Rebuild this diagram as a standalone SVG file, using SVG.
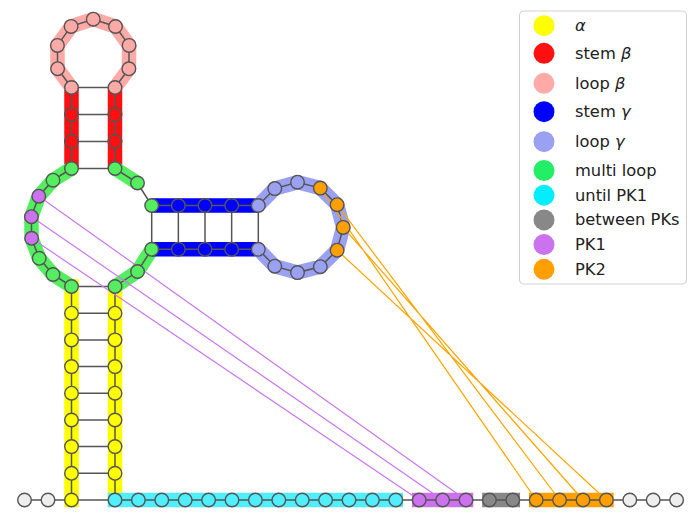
<svg xmlns="http://www.w3.org/2000/svg" width="692" height="527" viewBox="0 0 692 527">
<style>
.band{fill:none;stroke-width:14.5;stroke-linejoin:round;stroke-linecap:butt}
.sq{stroke-linecap:square}
.bb{fill:none;stroke:#555;stroke-width:1.5}
.pk1{stroke:#cc77ee;stroke-width:1.2}
.pk2{stroke:#ffa500;stroke-width:1.2}
circle.n{stroke:#555;stroke-width:1.4}
.ya{fill:#ffff00}.sb{fill:#ff1010}.lb{fill:#ffaaa6}.sg{fill:#0000ff}.lg{fill:#9aa0f2}
.ml{fill:#55ee60}.cy{fill:#50efff}.bp{fill:#888888}.p1{fill:#cc72ee}.p2{fill:#ffa000}.ex{fill:#eeeeee}
text{font-family:"DejaVu Sans","Liberation Sans",sans-serif;font-size:16.3px;fill:#222}
</style>

<g id="bands">
<path class="band sq" stroke="#ffff00" d="M71.5,286.5V500"/>
<path class="band" stroke="#ffff00" d="M115,286.5V500"/>
<path class="band" stroke="#ff1010" d="M71.5,87.5V168.5M115,87.5V168.5"/>
<path class="band" stroke="#ffaaa6" d="M71.5,87.5L57.6,68.7L57.4,45.4L71.1,26.4L93.25,19.2L115.5,26.5L129.1,45.4L128.9,68.8L115,87.5"/>
<path class="band" stroke="#55ee60" d="M71.5,168.5L53,180.2L38.8,196.2L31.4,216.7L31.6,238.3L39.2,258.3L53,274.5L71.5,286.5M115,168.5L137.5,183M151.7,249.3L137.5,271.5L115,286.5"/>
<path class="band" stroke="#0000ff" d="M151.7,205.5H258.3M151.7,249.3H258.3"/>
<path class="band" stroke="#9aa0f2" d="M258.3,205.5L274.8,188.6L297.5,182.2L320.3,188.1L337.1,204.7L343.2,227.4L337.1,250.2L320.3,266.7L297.5,272.6L274.8,266.2L258.3,249.3"/>
<path class="band sq" stroke="#50efff" d="M115,500H395.8"/>
<path class="band sq" stroke="#cc72ee" d="M419.2,500H466"/>
<path class="band sq" stroke="#888888" d="M489.4,500H512.8"/>
<path class="band sq" stroke="#ffa000" d="M536.2,500H606.4"/>
</g>

<g id="connectors">
<path class="bb" d="M24.5,500H676.6"/>
<path class="bb" d="M71.5,286.5V500M115,286.5V500"/>
<path class="bb" d="M71.5,286.5H115M71.5,313.2H115M71.5,339.9H115M71.5,366.6H115M71.5,393.2H115M71.5,420H115M71.5,446.6H115M71.5,473.3H115"/>
<path class="bb" d="M71.5,286.5L53,274.5L39.2,258.3L31.6,238.3L31.4,216.7L38.8,196.2L53,180.2L71.5,168.5"/>
<path class="bb" d="M115,168.5L137.5,183L151.7,205.5M151.7,249.3L137.5,271.5L115,286.5"/>
<path class="bb" d="M71.5,87.5V168.5M115,87.5V168.5M71.5,87.5H115M71.5,114.5H115M71.5,141.5H115M71.5,168.5H115"/>
<path class="bb" d="M71.5,87.5L57.6,68.7L57.4,45.4L71.1,26.4L93.25,19.2L115.5,26.5L129.1,45.4L128.9,68.8L115,87.5"/>
<path class="bb" d="M151.7,205.5H258.3M151.7,249.3H258.3M151.7,205.5V249.3M178.35,205.5V249.3M205,205.5V249.3M231.65,205.5V249.3M258.3,205.5V249.3"/>
<path class="bb" d="M258.3,205.5L274.8,188.6L297.5,182.2L320.3,188.1L337.1,204.7L343.2,227.4L337.1,250.2L320.3,266.7L297.5,272.6L274.8,266.2L258.3,249.3"/>
<path class="pk1" d="M38.8,196.2L466,500M31.4,216.7L442.6,500M31.6,238.3L419.2,500"/>
<path class="pk2" d="M320.3,188.1L536.2,500M337.1,204.7L559.6,500M343.2,227.4L583,500M337.1,250.2L606.4,500"/>
</g>

<g id="nodes">
<g id="b1"><circle class="n ex" cx="24.5" cy="500" r="6.8"/></g>
<g id="b2"><circle class="n ex" cx="48" cy="500" r="6.8"/></g>
<g id="a1"><circle class="n ya" cx="71.5" cy="500" r="6.8"/></g>
<g id="a2"><circle class="n ya" cx="71.5" cy="473.3" r="6.8"/></g>
<g id="a3"><circle class="n ya" cx="71.5" cy="446.6" r="6.8"/></g>
<g id="a4"><circle class="n ya" cx="71.5" cy="420" r="6.8"/></g>
<g id="a5"><circle class="n ya" cx="71.5" cy="393.2" r="6.8"/></g>
<g id="a6"><circle class="n ya" cx="71.5" cy="366.6" r="6.8"/></g>
<g id="a7"><circle class="n ya" cx="71.5" cy="339.9" r="6.8"/></g>
<g id="a8"><circle class="n ya" cx="71.5" cy="313.2" r="6.8"/></g>
<g id="m1"><circle class="n ml" cx="71.5" cy="286.5" r="6.8"/></g>
<g id="m2"><circle class="n ml" cx="53" cy="274.5" r="6.8"/></g>
<g id="m3"><circle class="n ml" cx="39.2" cy="258.3" r="6.8"/></g>
<g id="m4"><circle class="n p1" cx="31.6" cy="238.3" r="6.8"/></g>
<g id="m5"><circle class="n p1" cx="31.4" cy="216.7" r="6.8"/></g>
<g id="m6"><circle class="n p1" cx="38.8" cy="196.2" r="6.8"/></g>
<g id="m7"><circle class="n ml" cx="53" cy="180.2" r="6.8"/></g>
<g id="m8"><circle class="n ml" cx="71.5" cy="168.5" r="6.8"/></g>
<g id="s1"><circle class="n sb" cx="71.5" cy="141.5" r="6.8"/></g>
<g id="s2"><circle class="n sb" cx="71.5" cy="114.5" r="6.8"/></g>
<g id="l1"><circle class="n lb" cx="71.5" cy="87.5" r="6.8"/></g>
<g id="l2"><circle class="n lb" cx="57.6" cy="68.7" r="6.8"/></g>
<g id="l3"><circle class="n lb" cx="57.4" cy="45.4" r="6.8"/></g>
<g id="l4"><circle class="n lb" cx="71.1" cy="26.4" r="6.8"/></g>
<g id="l5"><circle class="n lb" cx="93.25" cy="19.2" r="6.8"/></g>
<g id="l6"><circle class="n lb" cx="115.5" cy="26.5" r="6.8"/></g>
<g id="l7"><circle class="n lb" cx="129.1" cy="45.4" r="6.8"/></g>
<g id="l8"><circle class="n lb" cx="128.9" cy="68.8" r="6.8"/></g>
<g id="l9"><circle class="n lb" cx="115" cy="87.5" r="6.8"/></g>
<g id="s3"><circle class="n sb" cx="115" cy="114.5" r="6.8"/></g>
<g id="s4"><circle class="n sb" cx="115" cy="141.5" r="6.8"/></g>
<g id="m9"><circle class="n ml" cx="115" cy="168.5" r="6.8"/></g>
<g id="m10"><circle class="n ml" cx="137.5" cy="183" r="6.8"/></g>
<g id="m11"><circle class="n ml" cx="151.7" cy="205.5" r="6.8"/></g>
<g id="g1"><circle class="n sg" cx="178.35" cy="205.5" r="6.8"/></g>
<g id="g2"><circle class="n sg" cx="205" cy="205.5" r="6.8"/></g>
<g id="g3"><circle class="n sg" cx="231.65" cy="205.5" r="6.8"/></g>
<g id="k1"><circle class="n lg" cx="258.3" cy="205.5" r="6.8"/></g>
<g id="k2"><circle class="n lg" cx="274.8" cy="188.6" r="6.8"/></g>
<g id="k3"><circle class="n lg" cx="297.5" cy="182.2" r="6.8"/></g>
<g id="k4"><circle class="n p2" cx="320.3" cy="188.1" r="6.8"/></g>
<g id="k5"><circle class="n p2" cx="337.1" cy="204.7" r="6.8"/></g>
<g id="k6"><circle class="n p2" cx="343.2" cy="227.4" r="6.8"/></g>
<g id="k7"><circle class="n p2" cx="337.1" cy="250.2" r="6.8"/></g>
<g id="k8"><circle class="n lg" cx="320.3" cy="266.7" r="6.8"/></g>
<g id="k9"><circle class="n lg" cx="297.5" cy="272.6" r="6.8"/></g>
<g id="k10"><circle class="n lg" cx="274.8" cy="266.2" r="6.8"/></g>
<g id="k11"><circle class="n lg" cx="258.3" cy="249.3" r="6.8"/></g>
<g id="g4"><circle class="n sg" cx="231.65" cy="249.3" r="6.8"/></g>
<g id="g5"><circle class="n sg" cx="205" cy="249.3" r="6.8"/></g>
<g id="g6"><circle class="n sg" cx="178.35" cy="249.3" r="6.8"/></g>
<g id="m12"><circle class="n ml" cx="151.7" cy="249.3" r="6.8"/></g>
<g id="m13"><circle class="n ml" cx="137.5" cy="271.5" r="6.8"/></g>
<g id="m14"><circle class="n ml" cx="115" cy="286.5" r="6.8"/></g>
<g id="a9"><circle class="n ya" cx="115" cy="313.2" r="6.8"/></g>
<g id="a10"><circle class="n ya" cx="115" cy="339.9" r="6.8"/></g>
<g id="a11"><circle class="n ya" cx="115" cy="366.6" r="6.8"/></g>
<g id="a12"><circle class="n ya" cx="115" cy="393.2" r="6.8"/></g>
<g id="a13"><circle class="n ya" cx="115" cy="420" r="6.8"/></g>
<g id="a14"><circle class="n ya" cx="115" cy="446.6" r="6.8"/></g>
<g id="a15"><circle class="n ya" cx="115" cy="473.3" r="6.8"/></g>
<g id="c1"><circle class="n cy" cx="115" cy="500" r="6.8"/></g>
<g id="c2"><circle class="n cy" cx="138.4" cy="500" r="6.8"/></g>
<g id="c3"><circle class="n cy" cx="161.8" cy="500" r="6.8"/></g>
<g id="c4"><circle class="n cy" cx="185.2" cy="500" r="6.8"/></g>
<g id="c5"><circle class="n cy" cx="208.6" cy="500" r="6.8"/></g>
<g id="c6"><circle class="n cy" cx="232" cy="500" r="6.8"/></g>
<g id="c7"><circle class="n cy" cx="255.4" cy="500" r="6.8"/></g>
<g id="c8"><circle class="n cy" cx="278.8" cy="500" r="6.8"/></g>
<g id="c9"><circle class="n cy" cx="302.2" cy="500" r="6.8"/></g>
<g id="c10"><circle class="n cy" cx="325.6" cy="500" r="6.8"/></g>
<g id="c11"><circle class="n cy" cx="349" cy="500" r="6.8"/></g>
<g id="c12"><circle class="n cy" cx="372.4" cy="500" r="6.8"/></g>
<g id="c13"><circle class="n cy" cx="395.8" cy="500" r="6.8"/></g>
<g id="q1"><circle class="n p1" cx="419.2" cy="500" r="6.8"/></g>
<g id="q2"><circle class="n p1" cx="442.6" cy="500" r="6.8"/></g>
<g id="q3"><circle class="n p1" cx="466" cy="500" r="6.8"/></g>
<g id="e1"><circle class="n bp" cx="489.4" cy="500" r="6.8"/></g>
<g id="e2"><circle class="n bp" cx="512.8" cy="500" r="6.8"/></g>
<g id="o1"><circle class="n p2" cx="536.2" cy="500" r="6.8"/></g>
<g id="o2"><circle class="n p2" cx="559.6" cy="500" r="6.8"/></g>
<g id="o3"><circle class="n p2" cx="583" cy="500" r="6.8"/></g>
<g id="o4"><circle class="n p2" cx="606.4" cy="500" r="6.8"/></g>
<g id="t1"><circle class="n ex" cx="629.8" cy="500" r="6.8"/></g>
<g id="t2"><circle class="n ex" cx="653.2" cy="500" r="6.8"/></g>
<g id="t3"><circle class="n ex" cx="676.6" cy="500" r="6.8"/></g>
</g>

<g id="legend">
<rect x="519.5" y="11" width="167" height="273" rx="4" fill="#ffffff" fill-opacity="0.8" stroke="#d0d0d0" stroke-width="1"/>
<circle cx="544" cy="25.7" r="10.5" fill="#ffff00"/><text x="575" y="31.2"><tspan font-style="italic">α</tspan></text>
<circle cx="544" cy="53.3" r="10.5" fill="#ff1010"/><text x="575" y="58.8">stem <tspan font-style="italic">β</tspan></text>
<circle cx="544" cy="83.3" r="10.5" fill="#ffaaa6"/><text x="575" y="88.8">loop <tspan font-style="italic">β</tspan></text>
<circle cx="544" cy="111.7" r="10.5" fill="#0000ff"/><text x="575" y="117.2">stem <tspan font-style="italic">γ</tspan></text>
<circle cx="544" cy="141.7" r="10.5" fill="#9aa0f2"/><text x="575" y="147.2">loop <tspan font-style="italic">γ</tspan></text>
<circle cx="544" cy="170.5" r="10.5" fill="#22ee66"/><text x="575" y="176">multi loop</text>
<circle cx="544" cy="195.2" r="10.5" fill="#00eeff"/><text x="575" y="200.7">until PK1</text>
<circle cx="544" cy="219.9" r="10.5" fill="#888888"/><text x="575" y="225.4">between PKs</text>
<circle cx="544" cy="244.6" r="10.5" fill="#cc72ee"/><text x="575" y="250.1">PK1</text>
<circle cx="544" cy="269.3" r="10.5" fill="#ffa000"/><text x="575" y="274.8">PK2</text>
</g>
</svg>
